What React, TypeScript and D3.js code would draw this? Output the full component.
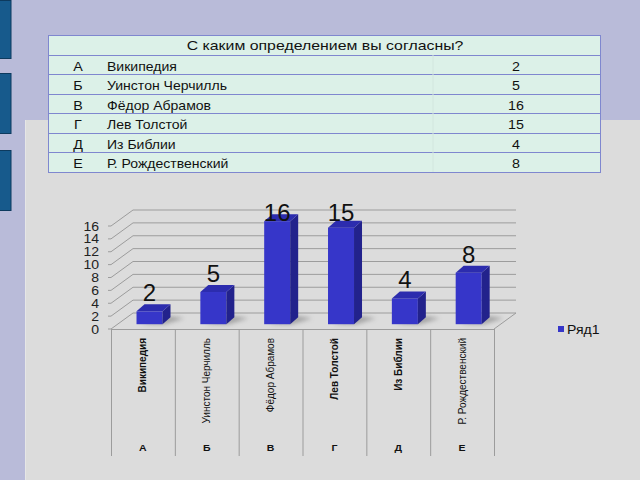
import React from "react";
import * as d3 from "d3";

const letters = ["А", "Б", "В", "Г", "Д", "Е"];
const categories = ["Википедия", "Уинстон Черчилль", "Фёдор Абрамов", "Лев Толстой", "Из Библии", "Р. Рождественский"];
const values = [2, 5, 16, 15, 4, 8];
const yTicks = [0, 2, 4, 6, 8, 10, 12, 14, 16];
const boldCats = [true, false, false, true, true, false];
const title = "С каким определением вы согласны?";
const seriesName = "Ряд1";

const FONT = "'Liberation Sans', Arial, sans-serif";
const SX = 1.17;

function T({ x, y, size, anchor = "start", weight = "normal", children, sx = SX, fill = "#111" }: any) {
  return (
    <text
      transform={`translate(${x},${y}) scale(${sx},1)`}
      fontSize={size}
      fontFamily={FONT}
      textAnchor={anchor}
      fontWeight={weight}
      fill={fill}
    >
      {children}
    </text>
  );
}

export default function App() {
  const W = 640, H = 480;
  // chart geometry
  const x = d3.scaleBand().domain(categories).range([111, 494]);
  const y = d3.scaleLinear().domain([0, 16]).range([329, 226]);
  const DX = 22, DY = -16; // wall depth
  const f = 0.3; // bar depth position
  const bdx = 8, bdy = -7; // bar depth
  const barW = 26;

  const rowEdges = [35, 55, 74, 94, 113, 133, 152, 172];
  const tX0 = 48, tX1 = 600;

  const label16 = y(16) - 5;

  return (
    <svg width={W} height={H} style={{ position: "absolute", left: 0, top: 0 }}>
      <defs>
        <filter id="blur" x="-50%" y="-50%" width="200%" height="200%">
          <feGaussianBlur stdDeviation="2" />
        </filter>
      </defs>
      <rect x={0} y={0} width={W} height={H} fill="#b9bbd9" />
      <rect x={25} y={120} width={W - 25} height={H - 120} fill="#dcdcdc" />
      <line x1={25.5} y1={120} x2={25.5} y2={H} stroke="#e6e6e6" />
      {[[0, 58], [73, 133], [150, 210]].map(([a, b], i) => (
        <rect key={i} x={-1} y={a + 0.5} width={12} height={b - a} fill="#175a8c" stroke="#0d3a5e" />
      ))}

      {/* table */}
      {rowEdges.slice(0, -1).map((t, i) => (
        <rect key={i} x={tX0 + 0.5} y={t + 0.5} width={tX1 - tX0} height={rowEdges[i + 1] - t} fill="#dcf1e8" stroke="#7f87cf" strokeWidth={1} />
      ))}
      <line x1={433} y1={55} x2={433} y2={172} stroke="#d2e6de" />
      <T x={325} y={50} size={13} anchor="middle" sx={1.22}>{title}</T>
      {letters.map((l, i) => (
        <g key={i}>
          <T x={78} y={rowEdges[i + 1] + 15.5} size={13} anchor="middle" sx={1.1}>{l}</T>
          <T x={107} y={rowEdges[i + 1] + 15.5} size={13} sx={1.08}>{categories[i]}</T>
          <T x={516} y={rowEdges[i + 1] + 15.5} size={13} anchor="middle" sx={1.1}>{values[i]}</T>
        </g>
      ))}

      {/* walls gridlines */}
      {yTicks.map((t) => (
        <g key={t} stroke="#9c9c9c" strokeWidth={1}>
          <line x1={108} y1={y(t)} x2={111} y2={y(t)} />
          <line x1={111} y1={y(t)} x2={111 + DX} y2={y(t) + DY} />
          <line x1={111 + DX} y1={y(t) + DY} x2={494 + DX} y2={y(t) + DY} />
        </g>
      ))}
      <line x1={494} y1={329} x2={494 + DX} y2={329 + DY} stroke="#9c9c9c" />
      {yTicks.map((t) => (
        <T key={t} x={99} y={y(t) + 4.5} size={12} anchor="end" fill="#222">{t}</T>
      ))}

      {/* category axis */}
      <line x1={111} y1={329.5} x2={494} y2={329.5} stroke="#9c9c9c" />
      {categories.map((c, i) => (
        <line key={c} x1={(x(c) as number) + 0.5} y1={329} x2={(x(c) as number) + 0.5} y2={456} stroke="#9c9c9c" />
      ))}
      <line x1={494.5} y1={329} x2={494.5} y2={456} stroke="#9c9c9c" />

      {/* bars */}
      {categories.map((c, i) => {
        const cx = (x(c) as number) + x.bandwidth() / 2 + f * DX;
        const base = y(0) + f * DY;
        const top = base - (y(0) - y(values[i]));
        const l = cx - barW / 2, r = cx + barW / 2;
        const backTop = top + bdy;
        const ly = Math.max(backTop - 3, label16);
        return (
          <g key={c}>
            <polygon
              points={`${l + 4},${base} ${r + 2},${base} ${r + bdx + 14},${base + bdy + 1} ${r + bdx},${base + bdy - 1}`}
              fill="#8a8a8a"
              opacity={0.7}
              filter="url(#blur)"
            />
            <rect x={l} y={top} width={barW} height={base - top} fill="#3636c9" />
            <polygon points={`${r},${top} ${r + bdx},${top + bdy} ${r + bdx},${base + bdy} ${r},${base}`} fill="#22228c" />
            <polygon points={`${l},${top} ${l + bdx},${top + bdy} ${r + bdx},${top + bdy} ${r},${top}`} fill="#2c2cae" />
            <text x={cx} y={ly} fontSize={24} fontFamily={FONT} textAnchor="middle" fill="#111">{values[i]}</text>
          </g>
        );
      })}

      {/* category labels */}
      {categories.map((c, i) => {
        const cx = (x(c) as number) + x.bandwidth() / 2;
        return (
          <g key={c}>
            <text
              transform={`translate(${cx + 3.5},338) rotate(-90)`}
              fontSize={10}
              fontFamily={FONT}
              fontWeight={boldCats[i] ? "bold" : "normal"}
              textAnchor="end"
              fill="#111"
            >
              {c}
            </text>
            <T x={cx} y={450.5} size={9} anchor="middle" weight="bold">{letters[i]}</T>
          </g>
        );
      })}

      {/* legend */}
      <rect x={558} y={326} width={6} height={6} fill="#3636c9" />
      <T x={567} y={334} size={12}>{seriesName}</T>
    </svg>
  );
}
